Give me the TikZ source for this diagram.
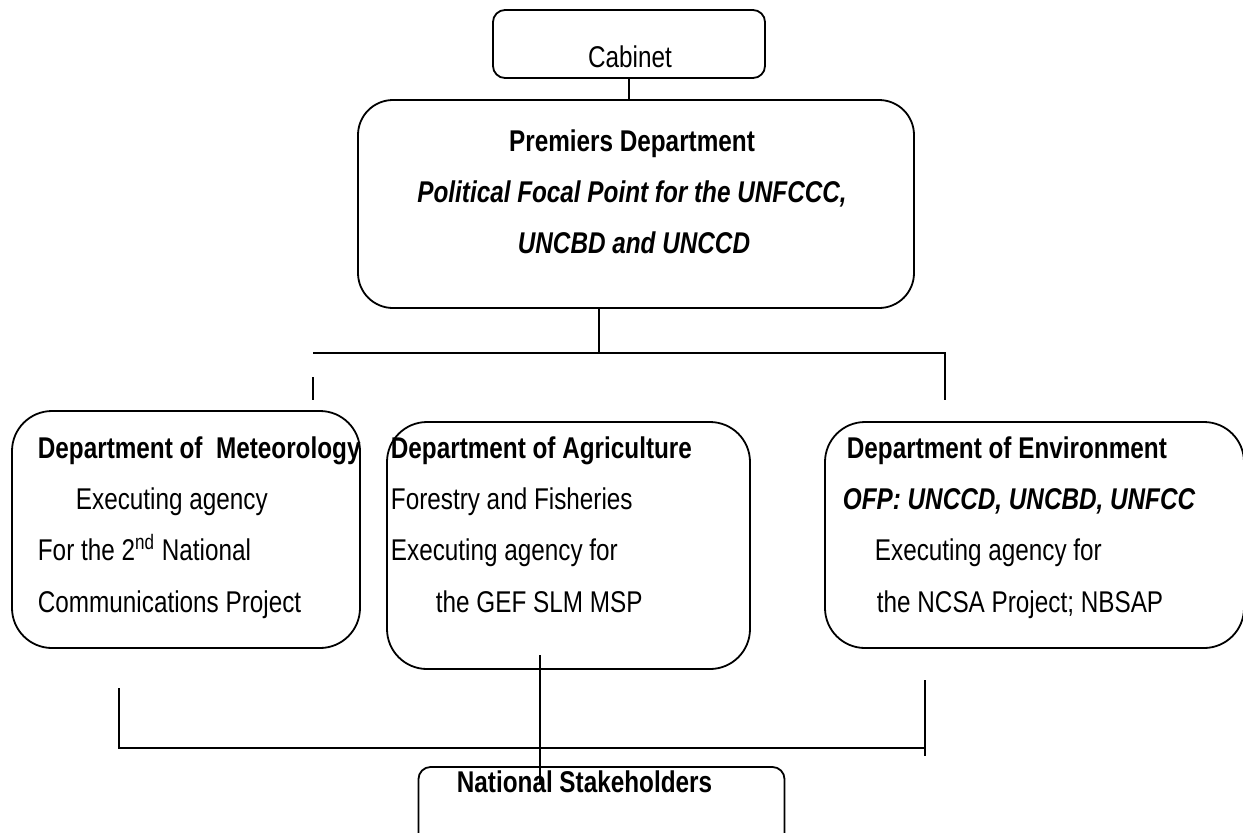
\documentclass[tikz,border=0pt]{standalone}
\usepackage{fontspec}
\setmainfont[FakeStretch=0.81]{Liberation Sans}
\begin{document}
\begin{tikzpicture}[x=0.5pt,y=-0.5pt,line width=0.9pt,
  box/.style={draw, rounded corners=#1, inner sep=0pt, outer sep=0pt},
  txt/.style={anchor=base west, inner sep=0pt, font=\fontsize{15}{18}\selectfont},
  ctxt/.style={anchor=base, inner sep=0pt, font=\fontsize{15}{18}\selectfont},
  conn/.style={draw, line width=0.9pt}]
\useasboundingbox (0,0) rectangle (1243,832);

% boxes
\node[box=6pt, minimum width=136pt, minimum height=34pt] (cab) at (629,44) {};
\node[box=17.5pt, minimum width=278pt, minimum height=104pt] (prem) at (636,204) {};
\node[box=20pt, minimum width=174pt, minimum height=118.5pt] (met) at (186,529.5) {};
\node[box=20pt, minimum width=181.5pt, minimum height=123.5pt] (agr) at (568.5,545.5) {};
\node[box=20pt, minimum width=209.5pt, minimum height=113pt] (env) at (1034.5,535) {};
\node[box=6pt, minimum width=183pt, minimum height=46.5pt] (ns) at (601.5,813.5) {};

% texts
\node[ctxt] (cabt) at (630,67) {Cabinet};
\node[ctxt] (prem1) at (632,151) {\bfseries Premiers Department};
\node[ctxt] (prem2) at (632,202) {\bfseries\itshape Political Focal Point for the UNFCCC,};
\node[ctxt] (prem3) at (634,253) {\bfseries\itshape UNCBD and UNCCD};

\node[txt] (met1) at (37,458) {\bfseries Department of~~Meteorology};
\node[txt] (met2) at (75,509) {Executing agency};
\node[txt] (met3) at (37,560) {For the 2\textsuperscript{nd} National};
\node[txt] (met4) at (37,612) {Communications Project};

\node[txt] (agr1) at (390,458) {\bfseries Department of Agriculture};
\node[txt] (agr2) at (390,509) {Forestry and Fisheries};
\node[txt] (agr3) at (390,560) {Executing agency for};
\node[txt] (agr4) at (435,612) {the GEF SLM MSP};

\node[txt] (env1) at (846,458) {\bfseries Department of Environment};
\node[txt] (env2) at (842,509) {\bfseries\itshape OFP: UNCCD, UNCBD, UNFCC};
\node[txt] (env3) at (874,560) {Executing agency for};
\node[txt] (env4) at (876,612) {the NCSA Project; NBSAP};

\node[txt] (nst) at (456,792) {\bfseries National Stakeholders};

% connectors
\draw[conn] (cab.south) -- (cab.south |- prem.north);
\coordinate (tj) at (599,353);
\coordinate (tl) at (313,353);
\coordinate (tr) at (945,353);
\coordinate (trd) at (945,400);
\coordinate (lt1) at (313,377);
\coordinate (lt2) at (313,400);
\draw[conn] (prem.south -| tj) -- (tj);
\draw[conn] (tl) -- (tr) -- (trd);
\draw[conn] (lt1) -- (lt2);

\coordinate (bl1) at (119,688);
\coordinate (bl2) at (119,748);
\coordinate (br2) at (925,748);
\coordinate (br1) at (925,680);
\coordinate (br3) at (925,756);
\draw[conn] (bl1) -- (bl2) -- (br2);
\draw[conn] (br1) -- (br3);
\coordinate (m1) at (540,655);
\coordinate (m2) at (540,785);
\draw[conn] (m1) -- (m2);
\end{tikzpicture}
\end{document}
